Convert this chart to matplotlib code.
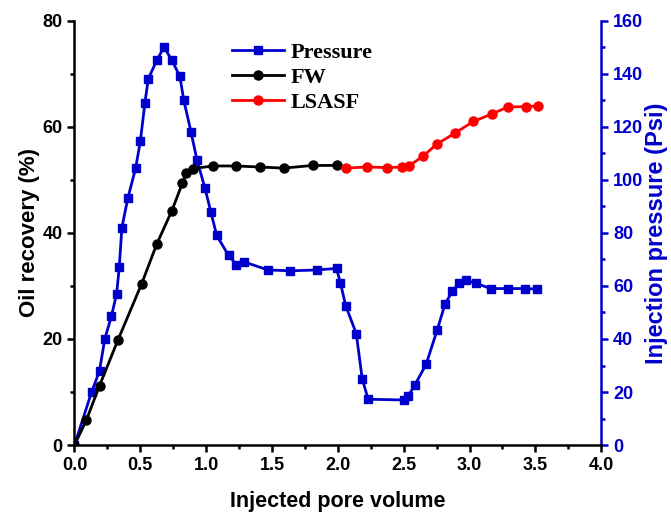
import matplotlib
matplotlib.use("Agg")
import matplotlib.pyplot as plt
from matplotlib.ticker import MultipleLocator, FormatStrFormatter

plt.rcParams['font.family'] = ['Liberation Sans', 'DejaVu Sans']
plt.rcParams['font.weight'] = 'bold'
plt.rcParams['axes.labelweight'] = 'bold'

# Pressure (Psi) vs injected PV
p_x = [0.0, 0.13, 0.19, 0.23, 0.28, 0.32, 0.34, 0.36, 0.405, 0.465, 0.50, 0.535,
       0.56, 0.625, 0.68, 0.74, 0.80, 0.83, 0.885, 0.93, 0.99, 1.035, 1.08, 1.17,
       1.23, 1.29, 1.47, 1.64, 1.84, 1.99, 2.02, 2.06, 2.14, 2.185, 2.23, 2.50,
       2.535, 2.585, 2.67, 2.755, 2.815, 2.87, 2.92, 2.97, 3.05, 3.16, 3.29, 3.42, 3.51]
p_y = [0, 20, 28, 40, 48.5, 57, 67, 82, 93, 104.5, 114.5, 129,
       138, 145, 150, 145, 139, 130, 118, 107.5, 97, 88, 79, 71.5,
       68, 69, 66, 65.7, 66, 66.6, 61, 52.5, 42, 25, 17.3, 17,
       18.5, 22.7, 30.4, 43.5, 53.3, 58, 61, 62.2, 61, 59, 59, 59, 58.8]

# Oil recovery (%) - formation water
fw_x = [0.0, 0.09, 0.19, 0.33, 0.51, 0.625, 0.74, 0.82, 0.85, 0.90, 1.05, 1.23,
        1.41, 1.59, 1.81, 1.99]
fw_y = [0, 4.7, 11.2, 19.8, 30.4, 37.9, 44.2, 49.4, 51.3, 52.1, 52.6, 52.6,
        52.4, 52.2, 52.7, 52.7]

# Oil recovery (%) - LSASF
ls_x = [2.06, 2.22, 2.37, 2.49, 2.54, 2.65, 2.75, 2.89, 3.03, 3.17, 3.29, 3.43, 3.52]
ls_y = [52.2, 52.4, 52.3, 52.4, 52.6, 54.5, 56.7, 58.8, 61.0, 62.4, 63.7, 63.8, 63.9]

blue = '#0000CC'

fig, ax = plt.subplots(figsize=(6.71, 5.14), dpi=100)
fig.subplots_adjust(left=0.111, right=0.896, bottom=0.134, top=0.960)
ax2 = ax.twinx()

lp, = ax2.plot(p_x, p_y, '-s', color=blue, lw=2, ms=6, label='Pressure')
lf, = ax.plot(fw_x, fw_y, '-o', color='black', lw=2, ms=6.5, label='FW')
lr, = ax.plot(ls_x, ls_y, '-o', color='red', lw=2, ms=6.5, label='LSASF')
ax.set_zorder(ax2.get_zorder() + 1)
ax.patch.set_visible(False)

ax.set_xlim(0, 4.0)
ax.set_ylim(0, 80)
ax2.set_ylim(0, 160)
ax.xaxis.set_major_locator(MultipleLocator(0.5))
ax.xaxis.set_minor_locator(MultipleLocator(0.25))
ax.xaxis.set_major_formatter(FormatStrFormatter('%.1f'))
ax.yaxis.set_major_locator(MultipleLocator(20))
ax.yaxis.set_minor_locator(MultipleLocator(10))
ax2.yaxis.set_major_locator(MultipleLocator(20))
ax2.yaxis.set_minor_locator(MultipleLocator(10))

for a in (ax, ax2):
    a.spines['top'].set_visible(False)
    for s in a.spines.values():
        s.set_linewidth(1.8)
ax2.spines['right'].set_color(blue)
ax2.spines['left'].set_visible(False)
ax2.spines['bottom'].set_visible(False)
ax.spines['right'].set_visible(False)

ax.tick_params(which='major', direction='out', length=5, width=1.8, labelsize=13)
ax.tick_params(which='minor', direction='out', length=3, width=1.8)
ax2.tick_params(which='major', direction='out', length=5, width=1.8, labelsize=13,
                color=blue, labelcolor=blue)
ax2.tick_params(which='minor', direction='out', length=3, width=1.8, color=blue)

ax.set_xlabel('Injected pore volume', fontsize=15.5, labelpad=12)
ax.set_ylabel('Oil recovery (%)', fontsize=16, labelpad=2)
ax2.set_ylabel('Injection pressure (Psi)', fontsize=17, color=blue, labelpad=1)

ax.legend(handles=[lp, lf, lr], loc='upper left', bbox_to_anchor=(0.262, 0.995),
          frameon=False, handlelength=2.3, handletextpad=0.3, labelspacing=0.2,
          prop={'family': 'Liberation Serif', 'weight': 'bold', 'size': 16})

fig.savefig('out.png', dpi=100)
